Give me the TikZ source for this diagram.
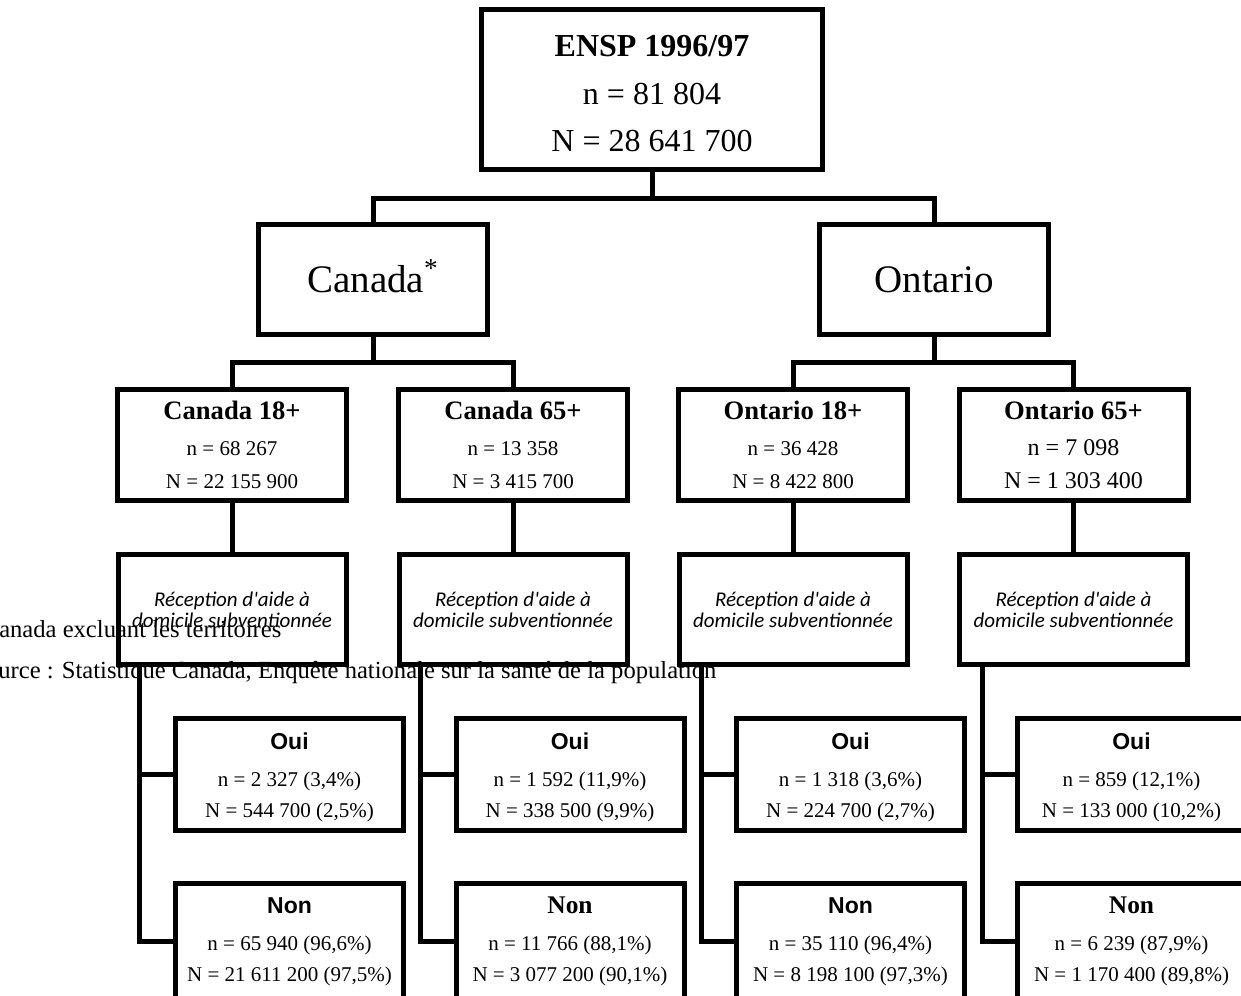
\documentclass[tikz,border=0pt]{standalone}
\usepackage{fontspec}
\setmainfont{Liberation Serif}
\newfontfamily\arialFont{Liberation Sans}
\newfontfamily\calibriFont{Carlito}
\usetikzlibrary{positioning}

\begin{document}
\begin{tikzpicture}[
    x=0.5pt, y=-0.5pt,
    every node/.style={inner sep=0pt},
    box/.style={draw, line width=2.5pt, align=center},
    topbox/.style={box, minimum width=170.5pt, minimum height=80pt, font=\fontsize{16}{23.75}\selectfont},
    regionbox/.style={box, minimum width=114.5pt, minimum height=55pt, font=\fontsize{19.5}{24}\selectfont},
    groupbox/.style={box, minimum width=114.5pt, minimum height=55.5pt, font=\fontsize{10.5}{16.5}\selectfont},
    aidebox/.style={box, minimum width=114pt, minimum height=55pt, font=\calibriFont\itshape\fontsize{10.5}{10.5}\selectfont},
    answerbox/.style={box, minimum width=114pt, font=\fontsize{10.5}{15.5}\selectfont},
    ouibox/.style={answerbox, minimum height=56pt},
    nonbox/.style={answerbox, minimum height=58pt},
    link/.style={line width=2.5pt},
    note/.style={anchor=base west, font=\fontsize{12.3}{14}\selectfont}
]
    \useasboundingbox (0,0) rectangle (1241,995);

    % Survey and regions (1 unit = 1 px of the 1241 x 995 page).
    \node[topbox] (ensp) at (652,89.5) {\rule{0pt}{15pt}\textbf{ENSP 1996/97}\\ n = 81 804\\ N = 28 641 700};
    \node[regionbox] (canada) at (373,279.5) {Canada\smash{\textsuperscript{*}}};
    \node[regionbox] (ontario) at (934,279.5) {Ontario};

    % Age groups.
    \node[groupbox] (can18) at (232,445) {{\fontsize{13.3}{16.5}\bfseries Canada 18+}\\[1.5pt] n = 68 267\\ N = 22 155 900};
    \node[groupbox] (can65) at (513,445) {{\fontsize{13.3}{16.5}\bfseries Canada 65+}\\[1.5pt] n = 13 358\\ N = 3 415 700};
    \node[groupbox] (ont18) at (793,445) {{\fontsize{13.3}{16.5}\bfseries Ontario 18+}\\[1.5pt] n = 36 428\\ N = 8 422 800};
    \node[groupbox, font=\fontsize{12}{16.5}\selectfont] (ont65) at (1073.5,445) {{\fontsize{13.3}{16.5}\bfseries Ontario 65+}\\[1.5pt] n = 7 098\\ N = 1 303 400};

    % Question boxes.
    \node[aidebox] (aideCan18) at (232,609.5) {Réception d'aide à\\ domicile subventionnée};
    \node[aidebox] (aideCan65) at (513,609.5) {Réception d'aide à\\ domicile subventionnée};
    \node[aidebox] (aideOnt18) at (793,609.5) {Réception d'aide à\\ domicile subventionnée};
    \node[aidebox] (aideOnt65) at (1073.5,609.5) {Réception d'aide à\\ domicile subventionnée};

    % Answers: Oui.
    \node[ouibox] (ouiCan18) at (289.5,774.5) {\rule{0pt}{11.5pt}{\arialFont\bfseries\fontsize{11.5}{15.5}\selectfont Oui}\\[3pt] n = 2 327 (3,4\%)\\ N = 544 700 (2,5\%)};
    \node[ouibox] (ouiCan65) at (570,774.5) {\rule{0pt}{11.5pt}{\arialFont\bfseries\fontsize{11.5}{15.5}\selectfont Oui}\\[3pt] n = 1 592 (11,9\%)\\ N = 338 500 (9,9\%)};
    \node[ouibox] (ouiOnt18) at (850.5,774.5) {\rule{0pt}{11.5pt}{\arialFont\bfseries\fontsize{11.5}{15.5}\selectfont Oui}\\[3pt] n = 1 318 (3,6\%)\\ N = 224 700 (2,7\%)};
    \node[ouibox] (ouiOnt65) at (1131.5,774.5) {\rule{0pt}{11.5pt}{\arialFont\bfseries\fontsize{11.5}{15.5}\selectfont Oui}\\[3pt] n = 859 (12,1\%)\\ N = 133 000 (10,2\%)};

    % Answers: Non.
    \node[nonbox] (nonCan18) at (289.5,941.5) {{\arialFont\bfseries\fontsize{11.5}{15.5}\selectfont Non}\\[3pt] n = 65 940 (96,6\%)\\ N = 21 611 200 (97,5\%)};
    \node[nonbox] (nonCan65) at (570,941.5) {{\bfseries\fontsize{12.7}{15.5}\selectfont Non}\\[3pt] n = 11 766 (88,1\%)\\ N = 3 077 200 (90,1\%)};
    \node[nonbox] (nonOnt18) at (850.5,941.5) {{\arialFont\bfseries\fontsize{11.5}{15.5}\selectfont Non}\\[3pt] n = 35 110 (96,4\%)\\ N = 8 198 100 (97,3\%)};
    \node[nonbox] (nonOnt65) at (1131.5,941.5) {{\bfseries\fontsize{12.7}{15.5}\selectfont Non}\\[3pt] n = 6 239 (87,9\%)\\ N = 1 170 400 (89,8\%)};

    % Tree connectors.
    \coordinate (splitTop) at (652,198);
    \coordinate (splitCan) at (373,362);
    \coordinate (splitOnt) at (934,362);
    \draw[link] (ensp.south) -- (splitTop);
    \draw[link] (canada.north) |- (ontario.north |- splitTop) -- (ontario.north);
    \draw[link] (canada.south) -- (splitCan);
    \draw[link] (can18.north) |- (can65.north |- splitCan) -- (can65.north);
    \draw[link] (ontario.south) -- (splitOnt);
    \draw[link] (ont18.north) |- (ont65.north |- splitOnt) -- (ont65.north);
    \draw[link] (can18) -- (aideCan18);
    \draw[link] (can65) -- (aideCan65);
    \draw[link] (ont18) -- (aideOnt18);
    \draw[link] (ont65) -- (aideOnt65);

    % Oui / Non branches.
    \coordinate (jCan18) at (139.5,774.5);
    \coordinate (jCan65) at (420.3,774.5);
    \coordinate (jOnt18) at (701,774.5);
    \coordinate (jOnt65) at (982,774.5);
    \draw[link] (aideCan18.south -| jCan18) |- (nonCan18.west);
    \draw[link] (jCan18) -- (ouiCan18.west);
    \draw[link] (aideCan65.south -| jCan65) |- (nonCan65.west);
    \draw[link] (jCan65) -- (ouiCan65.west);
    \draw[link] (aideOnt18.south -| jOnt18) |- (nonOnt18.west);
    \draw[link] (jOnt18) -- (ouiOnt18.west);
    \draw[link] (aideOnt65.south -| jOnt65) |- (nonOnt65.west);
    \draw[link] (jOnt65) -- (ouiOnt65.west);

    % Notes (partly cut by the page edge).
    \node[note] (noteStar) at (-36,637) {* Canada excluant les territoires};
    \node[note] (noteSource) at (-28,678) {Source : Statistique Canada, Enquête nationale sur la santé de la population};
\end{tikzpicture}
\end{document}
